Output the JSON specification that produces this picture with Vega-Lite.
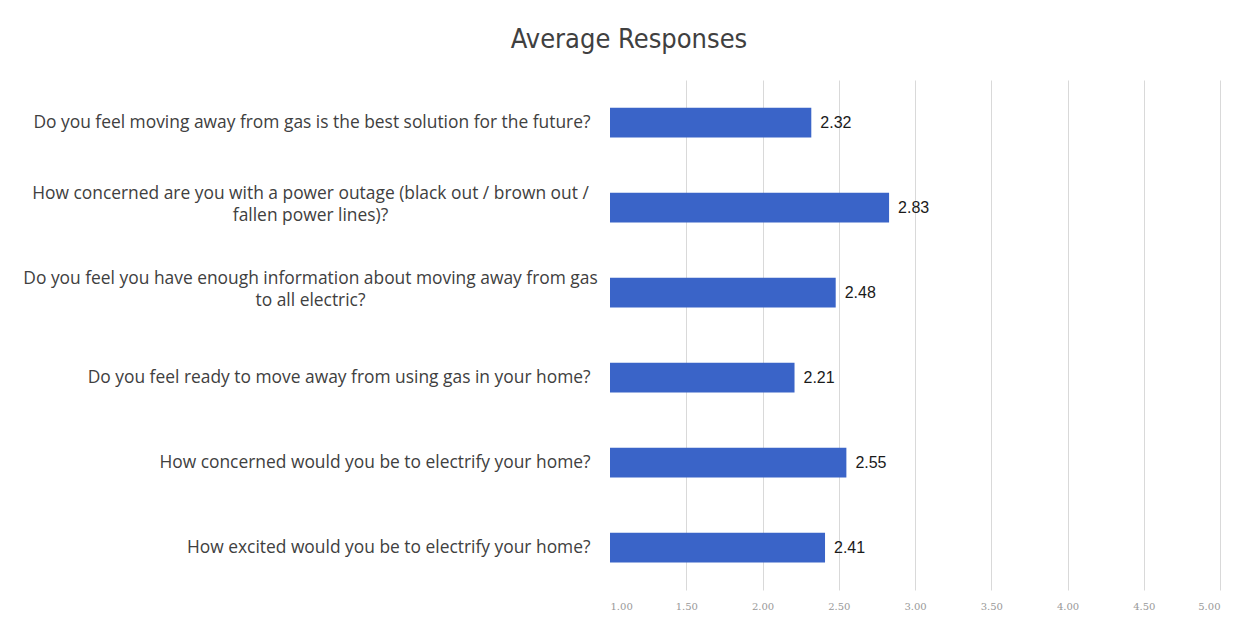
{
  "$schema": "https://vega.github.io/schema/vega-lite/v6.json",
  "width": 610,
  "height": 510,
  "autosize": {"type": "none"},
  "padding": {"left": 610, "top": 80, "right": 31, "bottom": 37},
  "background": "white",
  "title": {
    "text": "Average Responses",
    "font": "Liberation Sans Narrow, DejaVu Sans Condensed, sans-serif",
    "fontSize": 27,
    "fontWeight": "normal",
    "color": "#404040",
    "anchor": "middle",
    "frame": "group",
    "offset": 26,
    "dx": -286
  },
  "data": {
    "values": [
      {"question": "Do you feel moving away from gas is the best solution for the future?", "avg": 2.32},
      {"question": "How concerned are you with a power outage (black out / brown out /\nfallen power lines)?", "avg": 2.83},
      {"question": "Do you feel you have enough information about moving away from gas\nto all electric?", "avg": 2.48},
      {"question": "Do you feel ready to move away from using gas in your home?", "avg": 2.21},
      {"question": "How concerned would you be to electrify your home?", "avg": 2.55},
      {"question": "How excited would you be to electrify your home?", "avg": 2.41}
    ]
  },
  "config": {"view": {"stroke": null}},
  "resolve": {"axis": {"y": "independent"}},
  "layer": [
    {
      "mark": {"type": "bar", "color": "#3A64C8"},
      "encoding": {
        "y": {
          "field": "question",
          "type": "nominal",
          "sort": null,
          "scale": {"paddingInner": 0.65, "paddingOuter": 0.325},
          "axis": {
            "orient": "left",
            "title": null,
            "domain": false,
            "ticks": false,
            "labelPadding": 20,
            "labelLimit": 700,
            "labelFont": "Open Sans",
            "labelFontSize": 17.4,
            "labelColor": "#404040",
            "labelAlign": "right",
            "labelExpr": "indexof(datum.value, '\\n') >= 0 ? '' : datum.label"
          }
        },
        "x": {
          "field": "avg",
          "type": "quantitative",
          "scale": {"domain": [1, 5], "zero": false, "nice": false},
          "axis": {
            "title": null,
            "values": [1, 1.5, 2, 2.5, 3, 3.5, 4, 4.5, 5],
            "format": ".2f",
            "domain": false,
            "ticks": false,
            "grid": true,
            "gridColor": {"condition": {"test": "datum.value == 1", "value": "transparent"}, "value": "#d9d9d9"},
            "labelFont": "DejaVu Serif",
            "labelFontSize": 10,
            "labelColor": "#999999",
            "labelPadding": 11
          }
        },
        "x2": {"datum": 1}
      }
    },
    {
      "mark": {"type": "text", "align": "left", "dx": 9, "font": "Liberation Sans", "fontSize": 16, "color": "#1a1a1a"},
      "encoding": {
        "y": {
          "field": "question",
          "type": "nominal",
          "sort": null,
          "axis": {
            "orient": "left",
            "title": null,
            "domain": false,
            "ticks": false,
            "grid": false,
            "labelPadding": 300,
            "labelLimit": 700,
            "labelFont": "Open Sans",
            "labelFontSize": 17.4,
            "labelColor": "#404040",
            "labelLineHeight": 22,
            "labelOffset": -14,
            "labelAlign": "center",
            "labelExpr": "indexof(datum.value, '\\n') >= 0 ? split(datum.label, '\\n') : ''"
          }
        },
        "x": {"field": "avg", "type": "quantitative"},
        "text": {"field": "avg", "type": "quantitative", "format": ".2f"}
      }
    }
  ]
}
